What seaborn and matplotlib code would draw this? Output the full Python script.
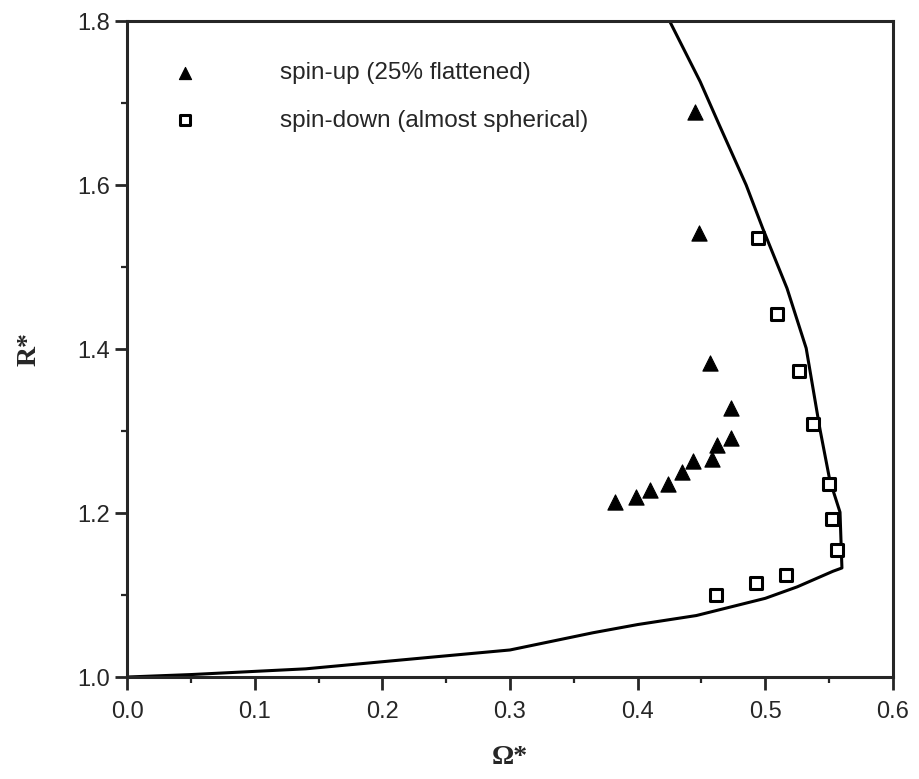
import matplotlib
matplotlib.use("Agg")
import matplotlib.pyplot as plt
import seaborn as sns
import numpy as np
import pandas as pd
from matplotlib.ticker import MultipleLocator

# spin-up (25% flattened) data
up_omega = [0.445, 0.448, 0.457, 0.473, 0.473, 0.462, 0.458, 0.443, 0.435, 0.424, 0.410, 0.399, 0.382]
up_r     = [1.689, 1.541, 1.383, 1.328, 1.292, 1.2825, 1.266, 1.263, 1.250, 1.236, 1.228, 1.219, 1.213]

# spin-down (almost spherical) data
down_omega = [0.494, 0.509, 0.526, 0.5375, 0.550, 0.552, 0.556, 0.516, 0.493, 0.461]
down_r     = [1.536, 1.443, 1.373, 1.309, 1.235, 1.193, 1.1545, 1.125, 1.115, 1.100]

# theoretical curve
curve_omega = [0.0, 0.05, 0.14, 0.237, 0.300, 0.365, 0.400, 0.446, 0.500, 0.525, 0.553, 0.560,
               0.5585, 0.5505, 0.5427, 0.532, 0.517, 0.498, 0.485, 0.464, 0.449, 0.425]
curve_r     = [1.000, 1.003, 1.010, 1.024, 1.033, 1.054, 1.064, 1.075, 1.096, 1.110, 1.129, 1.133,
               1.201, 1.240, 1.303, 1.401, 1.474, 1.547, 1.600, 1.673, 1.726, 1.800]

x_ticks = [0.0, 0.1, 0.2, 0.3, 0.4, 0.5, 0.6]
y_ticks = [1.0, 1.2, 1.4, 1.6, 1.8]

sns.set_style("ticks")
plt.rcParams['font.family'] = ['Liberation Sans', 'DejaVu Sans']

fig = plt.figure(figsize=(9.19, 7.79), dpi=100)
ax = fig.add_axes([0.1382, 0.1309, 0.8335, 0.8421])

curve_df = pd.DataFrame({"omega": curve_omega, "r": curve_r})
sns.lineplot(data=curve_df, x="omega", y="r", sort=False, color="black", linewidth=2.2, ax=ax,
             estimator=None)

up_df = pd.DataFrame({"omega": up_omega, "r": up_r})
down_df = pd.DataFrame({"omega": down_omega, "r": down_r})
sns.scatterplot(data=up_df, x="omega", y="r", marker="^", s=120, color="black",
                edgecolor="black", linewidth=0.8, ax=ax, label="spin-up (25% flattened)", zorder=3)
sns.scatterplot(data=down_df, x="omega", y="r", marker="s", s=85, facecolor="white",
                edgecolor="black", linewidth=2.2, ax=ax, label="spin-down (almost spherical)", zorder=3)

ax.set_xlim(0.0, 0.6)
ax.set_ylim(1.0, 1.8)
ax.set_xticks(x_ticks)
ax.set_yticks(y_ticks)
ax.set_xticklabels([f"{v:.1f}" for v in x_ticks])
ax.set_yticklabels([f"{v:.1f}" for v in y_ticks])
ax.xaxis.set_minor_locator(MultipleLocator(0.05))
ax.yaxis.set_minor_locator(MultipleLocator(0.1))
ax.tick_params(axis="both", which="major", direction="out", length=9, width=2.0, labelsize=17)
ax.tick_params(axis="x", which="major", pad=8)
ax.tick_params(axis="y", which="major", pad=3)
ax.tick_params(axis="both", which="minor", direction="out", length=4, width=1.6)
for sp in ax.spines.values():
    sp.set_visible(True)
    sp.set_linewidth(2.2)

ax.set_xlabel("Ω*", fontsize=20, fontweight="bold", family=["Liberation Serif", "DejaVu Serif"], labelpad=16)
ax.set_ylabel("R*", fontsize=20, fontweight="bold", family=["Liberation Serif", "DejaVu Serif"], labelpad=26)

leg = ax.legend(loc="upper left", bbox_to_anchor=(0.031, 0.952), frameon=False, fontsize=17.5,
                handletextpad=2.9, labelspacing=1.05, markerscale=0.8, borderaxespad=0.0)

fig.savefig("out.png", dpi=100)
